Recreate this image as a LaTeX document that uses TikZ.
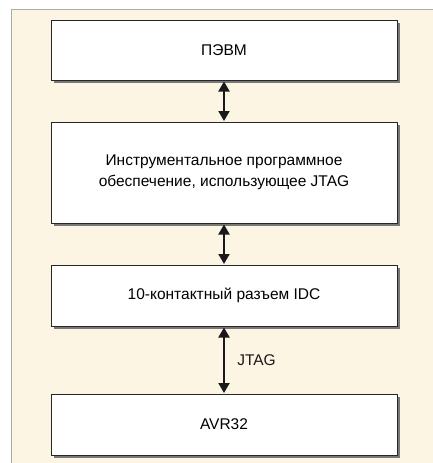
\documentclass[tikz,border=0pt]{standalone}
\usepackage{fontspec}
\setmainfont{Liberation Sans}
\usepackage{tikz}
\usetikzlibrary{arrows.meta,shadows}

\definecolor{panelcream}{RGB}{253,245,228}
\definecolor{paneledge}{RGB}{170,170,170}
\definecolor{boxshadow}{RGB}{120,120,120}

\tikzset{
    blockbox/.style={draw=black!85, line width=1pt, fill=white,
        minimum width=346pt, inner sep=0pt, align=center,
        font=\fontsize{15.5pt}{21pt}\selectfont,
        drop shadow={shadow xshift=2.5pt, shadow yshift=-2.5pt,
            fill=boxshadow, opacity=1}},
    biarrow/.style={line width=2pt, black!90, shorten <=1pt, shorten >=0.5pt,
        {Triangle[width=11pt,length=10pt]}-{Triangle[width=11pt,length=10pt]}}
}

\begin{document}
    \begin{tikzpicture}[x=1pt,y=-1pt]
        \useasboundingbox (0,0) rectangle (433,463);
        % background panel
        \fill[panelcream] (11,9) rectangle (433,463);
        \draw[paneledge, line width=1pt] (11,463) -- (11,9) -- (433,9);

        \node[blockbox, minimum height=60pt]  (pc)   at (224,50)    {ПЭВМ};
        \node[blockbox, minimum height=101pt] (soft) at (224,172.5) {Инструментальное программное\\обеспечение, использующее JTAG};
        \node[blockbox, minimum height=61pt]  (idc)  at (224,295.5) {10-контактный разъем IDC};
        \node[blockbox, minimum height=61pt]  (avr)  at (224,424.5) {AVR32};

        \draw[biarrow] (pc.south) -- (soft.north);
        \draw[biarrow] (soft.south) -- (idc.north);
        \draw[biarrow] (idc.south) -- node[right=9pt, font=\fontsize{15.5pt}{17pt}\selectfont] (jtag) {JTAG} (avr.north);
    \end{tikzpicture}
\end{document}
